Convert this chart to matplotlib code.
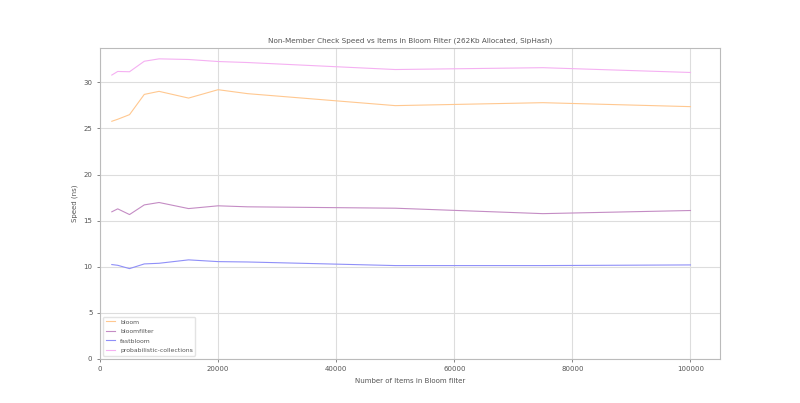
import numpy as np
import matplotlib
matplotlib.use("Agg")
import matplotlib.pyplot as plt

# items in filter
items = [2000, 3000, 5000, 7500, 10000, 15000, 20000, 25000, 50000, 75000, 100000]

# check speed (ns)
bloom = [25.78, 26.0, 26.5, 28.7, 29.03, 28.3, 29.21, 28.78, 27.48, 27.8, 27.37]
bloomfilter = [15.95, 16.27, 15.65, 16.7, 16.96, 16.3, 16.6, 16.49, 16.34, 15.75, 16.09]
fastbloom = [10.22, 10.14, 9.78, 10.29, 10.36, 10.73, 10.54, 10.5, 10.11, 10.11, 10.18]
prob_collections = [30.8, 31.19, 31.16, 32.3, 32.56, 32.49, 32.27, 32.16, 31.4, 31.6, 31.08]

labels = ['bloom', 'bloomfilter', 'fastbloom', 'probabilistic-collections']
colours = ['#ffc890', '#c48cc4', '#8f8ff8', '#f5b0f2']

textCol = '#555555'
plt.rcParams['font.size'] = 5
plt.rcParams['text.color'] = textCol
plt.rcParams['axes.labelcolor'] = textCol
plt.rcParams['xtick.color'] = textCol
plt.rcParams['ytick.color'] = textCol

fig = plt.figure(figsize=(8, 4.03), dpi=100)
ax = fig.add_subplot(111)

for series, name, col in zip([bloom, bloomfilter, fastbloom, prob_collections], labels, colours):
	ax.plot(items, series, color=col, linewidth=0.8, label=name)

ax.set_xlim(left=0, right=105000)
ax.set_ylim(bottom=0)
ax.grid(True, color='#dddddd', linewidth=0.8)
ax.set_axisbelow(True)
for s in ax.spines.values():
	s.set_color('#bbbbbb')
ax.tick_params(length=2, width=0.5, colors=textCol, labelsize=5)

ax.set_title('Non-Member Check Speed vs Items in Bloom Filter (262Kb Allocated, SipHash)', fontsize=5.2, color=textCol, pad=4)
ax.set_xlabel('Number of Items in Bloom filter', fontsize=5)
ax.set_ylabel('Speed (ns)', fontsize=5)
leg = ax.legend(loc='lower left', fontsize=4.4, framealpha=0.8, handlelength=1.6, labelspacing=0.7)
leg.get_frame().set_edgecolor('#dddddd')

fig.savefig('out.png', dpi=100)
